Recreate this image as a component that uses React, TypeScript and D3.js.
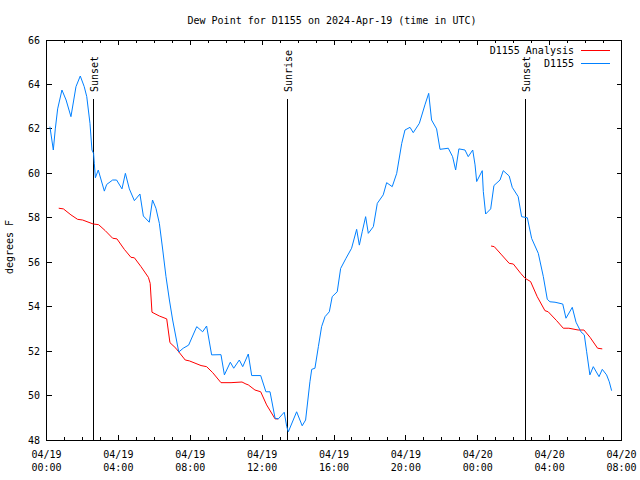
import React from "react";
import * as d3 from "d3";

// hours since 2024-04-19 00:00 UTC
const obsHours = [0.19,0.38,0.49,0.62,0.86,1.09,1.36,1.64,1.88,2.1,2.24,2.42,2.53,2.62,2.66,2.72,2.88,3.22,3.35,3.68,3.9,4.2,4.39,4.61,4.89,5.2,5.39,5.72,5.9,6.09,6.28,6.47,6.65,6.84,7.02,7.36,7.61,7.91,8.36,8.69,8.91,9.19,9.71,9.9,10.23,10.42,10.73,10.92,11.23,11.42,11.92,12.21,12.44,12.72,12.9,13.23,13.37,13.46,13.92,14.23,14.42,14.66,14.76,14.94,15.13,15.31,15.5,15.74,15.9,16.18,16.37,16.67,16.98,17.26,17.41,17.57,17.76,17.91,18.19,18.41,18.74,18.93,19.24,19.49,19.77,19.95,20.23,20.41,20.75,21.06,21.27,21.43,21.71,21.9,22.36,22.6,22.77,22.95,23.29,23.47,23.72,23.85,23.94,24.25,24.31,24.44,24.72,24.9,25.24,25.42,25.75,25.92,26.25,26.44,26.76,27.0,27.37,27.65,27.87,28.02,28.3,28.73,28.91,29.26,29.47,29.74,29.93,30.06,30.24,30.43,30.75,30.93,31.17,31.32,31.45];
const obsValues = [62.1,61.05,62.0,62.9,63.75,63.3,62.55,63.9,64.38,63.9,63.45,62.25,61.05,60.9,60.45,59.8,60.15,59.2,59.5,59.7,59.7,59.3,60.0,59.3,58.77,59.07,58.08,57.8,58.8,58.43,57.75,56.55,55.35,54.3,53.4,51.96,52.13,52.27,53.1,52.87,53.13,51.83,51.84,50.93,51.5,51.23,51.6,51.3,51.87,50.9,50.9,50.17,50.17,48.98,48.95,49.25,48.6,48.37,49.27,48.64,48.9,50.62,51.18,51.23,52.2,53.1,53.55,53.77,54.45,54.67,55.72,56.18,56.63,57.48,56.77,57.37,58.05,57.3,57.6,58.65,59.03,59.58,59.4,60.0,61.35,61.95,62.07,61.83,62.25,63.08,63.6,62.4,62.0,61.08,61.13,60.75,60.15,61.1,61.05,60.75,61.05,60.38,59.63,60.12,59.18,58.17,58.4,59.45,59.7,60.12,59.88,59.37,58.95,58.05,58.0,57.07,56.4,55.35,54.33,54.22,54.2,54.12,53.48,53.97,53.3,52.87,52.73,51.97,50.93,51.3,50.85,51.18,50.93,50.62,50.22];

const anaHours1 = [0.68,0.94,1.36,1.73,2.01,2.6,2.9,3.27,3.68,3.92,4.33,4.7,4.89,5.26,5.67,5.77,5.87,6.28,6.69,6.87,7.2,7.72,7.95,8.6,8.91,9.25,9.71,10.27,10.88,11.1,11.23,11.6,11.92,12.25,12.72,12.9];
const anaValues1 = [58.43,58.4,58.13,57.93,57.9,57.72,57.69,57.42,57.08,57.05,56.58,56.22,56.2,55.8,55.32,55.05,53.75,53.58,53.45,52.38,52.13,51.6,51.56,51.35,51.3,51.03,50.58,50.58,50.61,50.52,50.48,50.25,50.17,49.58,48.95,48.95];
const anaHours2 = [24.74,24.92,25.33,25.75,25.98,26.39,26.63,26.94,27.31,27.74,27.92,28.39,28.76,29.07,29.59,29.91,30.25,30.67,30.93];
const anaValues2 = [56.73,56.7,56.33,55.95,55.92,55.5,55.28,55.13,54.45,53.82,53.77,53.37,53.03,53.03,52.95,52.95,52.62,52.13,52.1];

const sunEventHours = [2.6, 13.4, 26.65];
const sunEventLabels = ["Sunset", "Sunrise", "Sunset"];

const yTicks = [48, 50, 52, 54, 56, 58, 60, 62, 64, 66];
const seriesNames = ["D1155 Analysis", "D1155"];
const seriesColors = ["#ff0000", "#0080ff"];
const titleText = "Dew Point for D1155 on 2024-Apr-19 (time in UTC)";
const yLabel = "degrees F";

const base = Date.UTC(2024, 3, 19, 0, 0);
const toDate = (h: number) => new Date(base + h * 3600000);

export default function App() {
  const W = 640, H = 480;
  const L = 46.5, R = 621.5, T = 40, B = 440;
  const x = d3.scaleUtc().domain([toDate(0), toDate(32)]).range([L, R]);
  const y = d3.scaleLinear().domain([48, 66]).range([B, T]);
  const font = "'DejaVu Sans Mono', monospace";

  const majorTicks = d3.utcHour.every(4)!.range(toDate(0), toDate(32.01));
  const minorTicks = d3.utcHour.every(1)!.range(toDate(0), toDate(32.01));
  const fmtD = d3.utcFormat("%m/%d");
  const fmtT = d3.utcFormat("%H:%M");

  const line = d3.line<[number, number]>()
    .x((d) => x(toDate(d[0])))
    .y((d) => y(d[1]));

  const obs: [number, number][] = obsHours.map((h, i) => [h, obsValues[i]]);
  const ana1: [number, number][] = anaHours1.map((h, i) => [h, anaValues1[i]]);
  const ana2: [number, number][] = anaHours2.map((h, i) => [h, anaValues2[i]]);

  return (
    <svg width={W} height={H} style={{ position: "absolute", left: 0, top: 0, background: "#fff" }}
      fontFamily={font} fontSize={10}>
      <rect x={0} y={0} width={W} height={H} fill="#fff" />
      <text x={332} y={24} textAnchor="middle">{titleText}</text>
      <text transform={`translate(13,247) rotate(-90)`} textAnchor="middle">{yLabel}</text>

      {/* y ticks */}
      {yTicks.map((v) => (
        <g key={v}>
          <line x1={L} x2={L + 5} y1={y(v)} y2={y(v)} stroke="#000" shapeRendering="crispEdges" />
          <line x1={R} x2={R - 5} y1={y(v)} y2={y(v)} stroke="#000" shapeRendering="crispEdges" />
          <text x={40} y={y(v) + 3.5} textAnchor="end">{v}</text>
        </g>
      ))}

      {/* x ticks */}
      {minorTicks.map((d, i) => (
        <g key={"m" + i}>
          <line x1={x(d)} x2={x(d)} y1={B} y2={B - 3} stroke="#000" shapeRendering="crispEdges" />
          <line x1={x(d)} x2={x(d)} y1={T} y2={T + 3} stroke="#000" shapeRendering="crispEdges" />
        </g>
      ))}
      {majorTicks.map((d, i) => (
        <g key={"M" + i}>
          <line x1={x(d)} x2={x(d)} y1={B} y2={B - 5} stroke="#000" shapeRendering="crispEdges" />
          <line x1={x(d)} x2={x(d)} y1={T} y2={T + 5} stroke="#000" shapeRendering="crispEdges" />
          <text x={x(d)} y={458} textAnchor="middle">{fmtD(d)}</text>
          <text x={x(d)} y={471} textAnchor="middle">{fmtT(d)}</text>
        </g>
      ))}

      {/* sun events */}
      {sunEventHours.map((h, i) => (
        <g key={"s" + i}>
          <line x1={x(toDate(h))} x2={x(toDate(h))} y1={99} y2={B} stroke="#000" shapeRendering="crispEdges" />
          <text transform={`translate(${x(toDate(h)) + 5},92) rotate(-90)`} textAnchor="start">{sunEventLabels[i]}</text>
        </g>
      ))}

      <path d={line(ana1) || ""} fill="none" stroke={seriesColors[0]} strokeWidth={1} />
      <path d={line(ana2) || ""} fill="none" stroke={seriesColors[0]} strokeWidth={1} />
      <path d={line(obs) || ""} fill="none" stroke={seriesColors[1]} strokeWidth={1} />

      {/* legend */}
      {seriesNames.map((n, i) => (
        <g key={n}>
          <text x={574} y={54 + i * 12.5} textAnchor="end">{n}</text>
          <line x1={581} x2={610} y1={50.5 + i * 12.5} y2={50.5 + i * 12.5} stroke={seriesColors[i]} shapeRendering="crispEdges" />
        </g>
      ))}

      <rect x={L} y={T} width={R - L} height={B - T} fill="none" stroke="#000" shapeRendering="crispEdges" />
    </svg>
  );
}
